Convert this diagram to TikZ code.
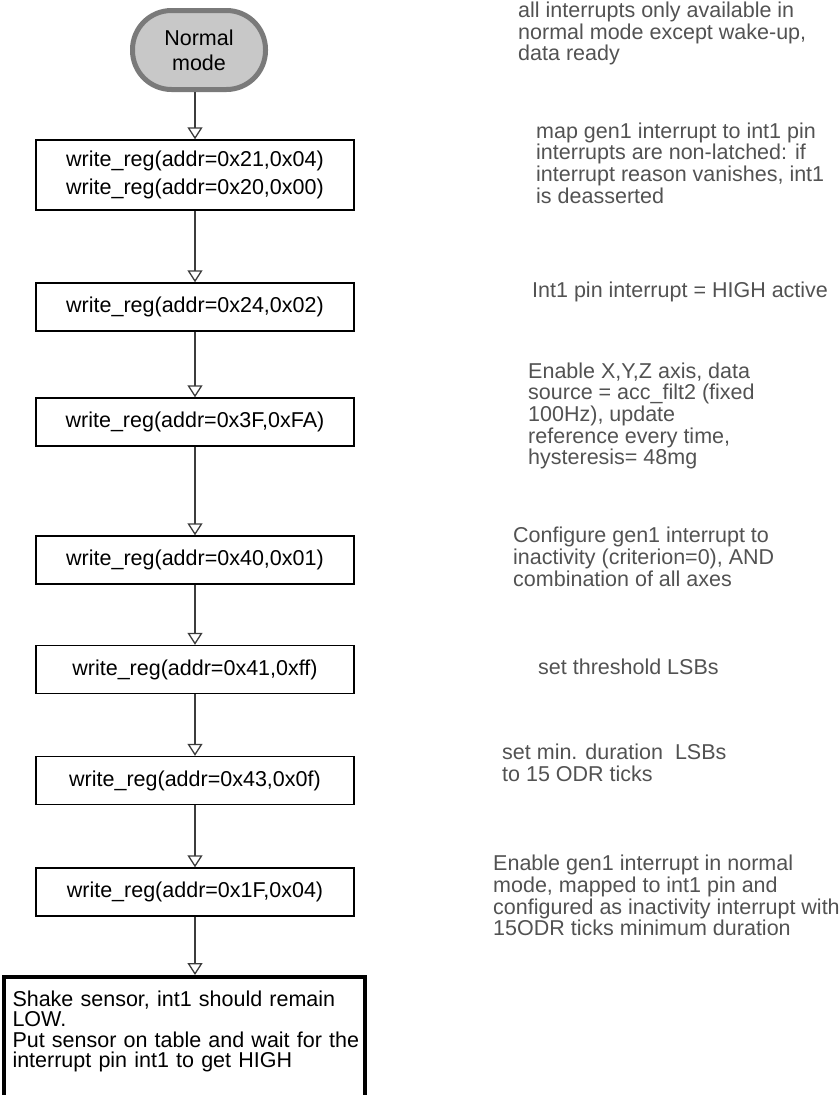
\documentclass[tikz,border=0pt]{standalone}
\usepackage{fontspec}
\setmainfont{Liberation Sans}
\usetikzlibrary{arrows.meta}
\definecolor{notegray}{RGB}{82,82,82}
\definecolor{linegray}{RGB}{60,60,60}
\definecolor{termfill}{RGB}{200,200,200}
\definecolor{termedge}{RGB}{122,122,122}
\newcommand{\ind}{\hspace*{6pt}}
\begin{document}
\begin{tikzpicture}[x=1pt,y=-1pt,
  terminal/.style={draw=termedge, fill=termfill, line width=5pt,
    rounded corners=39pt, minimum width=133pt, minimum height=79pt,
    inner sep=0pt, align=center, font=\fontsize{21.5}{25}\selectfont},
  regbox/.style={draw=black, line width=1.4pt, minimum width=318pt,
    minimum height=48pt, inner sep=0pt, align=center,
    font=\fontsize{21.5}{28}\selectfont},
  endbox/.style={draw=black, line width=4pt, anchor=north west,
    inner xsep=2.5pt, inner ysep=14pt,
    text width=356pt, align=left, font=\fontsize{21.5}{20.3}\selectfont},
  note/.style={anchor=west, inner sep=0pt, align=left, text=notegray,
    font=\fontsize{21.5}{21.7}\selectfont},
  flow/.style={draw=linegray, line width=1.3pt,
    -{Triangle[open, length=12pt, width=15pt, line width=1.3pt]}},
  ]
\useasboundingbox (0,0) rectangle (838,1095);

% start terminal
\node[terminal] (term) at (199,50) {Normal\\mode};

% register writes
\node[regbox, minimum height=70pt] (b1) at (195,175)
  {write\_reg(addr=0x21,0x04)\\write\_reg(addr=0x20,0x00)};
\node[regbox] (b2) at (195,307) {write\_reg(addr=0x24,0x02)};
\node[regbox] (b3) at (195,422) {write\_reg(addr=0x3F,0xFA)};
\node[regbox] (b4) at (195,560) {write\_reg(addr=0x40,0x01)};
\node[regbox] (b5) at (195,669.5) {write\_reg(addr=0x41,0xff)};
\node[regbox] (b6) at (195,780.5) {write\_reg(addr=0x43,0x0f)};
\node[regbox] (b7) at (195,892) {write\_reg(addr=0x1F,0x04)};

% final test instruction (frame runs past the lower page edge)
\node[endbox] (final) at (2,975)
  {\ind Shake sensor, int1 should remain\\\ind LOW.\\\ind Put sensor on table and wait for the\\\ind interrupt pin int1 to get HIGH\rule[-40pt]{0pt}{0pt}};

% flow
\draw[flow] (b1.north |- term.south) -- (b1.north);
\draw[flow] (b1) -- (b2);
\draw[flow] (b2) -- (b3);
\draw[flow] (b3) -- (b4);
\draw[flow] (b4) -- (b5);
\draw[flow] (b5) -- (b6);
\draw[flow] (b6) -- (b7);
\draw[flow] (b7.south) -- (b7.south |- final.north);

% side notes
\node[note] (n1) at (518,33.5) {all interrupts only available in\\normal mode except wake-up,\\data ready};
\node[note] (n2) at (536,163) {map gen1 interrupt to int1 pin\\interrupts are non-latched: if\\interrupt reason vanishes, int1\\is deasserted};
\node[note] (n3) at (532,292) {Int1 pin interrupt = HIGH active};
\node[note] (n4) at (528,416) {Enable X,Y,Z axis, data\\source = acc\_filt2 (fixed\\100Hz), update\\reference every time,\\hysteresis= 48mg};
\node[note] (n5) at (513,557) {Configure gen1 interrupt to\\inactivity (criterion=0), AND\\combination of all axes};
\node[note] (n6) at (538,667) {set threshold LSBs};
\node[note] (n7) at (502,762.5) {set min. duration\ \ LSBs\\to 15 ODR ticks};
\node[note] (n8) at (493,895.5) {Enable gen1 interrupt in normal\\mode, mapped to int1 pin and\\configured as inactivity interrupt with\\15ODR ticks minimum duration};
\end{tikzpicture}
\end{document}
